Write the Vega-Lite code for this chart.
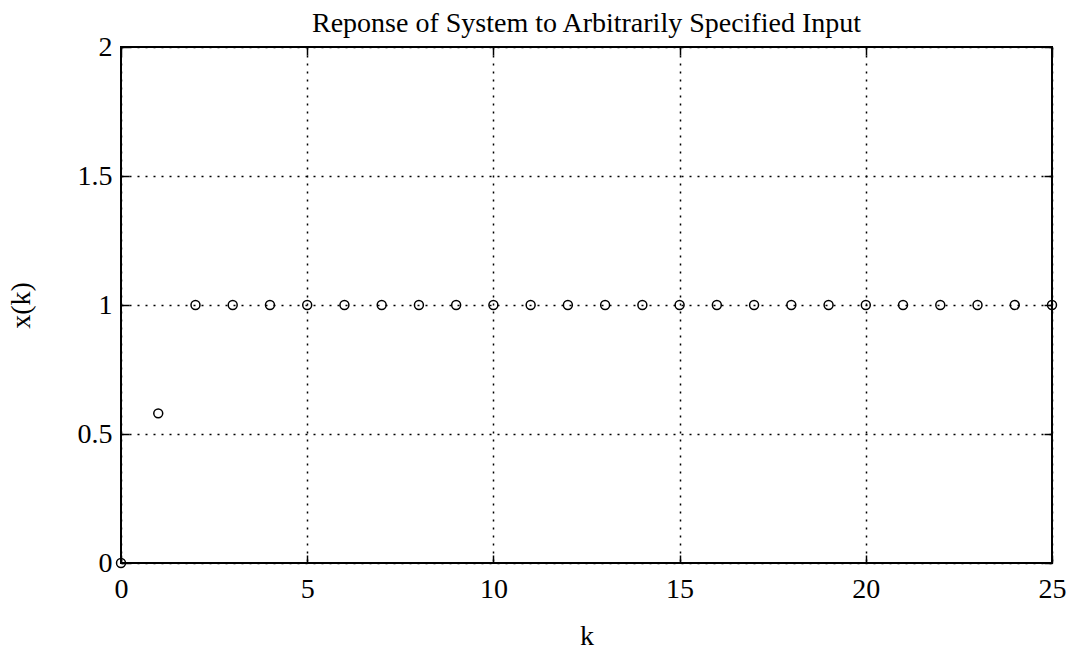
{
  "$schema": "https://vega.github.io/schema/vega-lite/v6.json",
  "width": 931,
  "height": 516,
  "autosize": {"type": "none"},
  "padding": {"left": 121, "top": 47, "right": 18, "bottom": 87},
  "background": "white",
  "title": {
    "text": "Reponse of System to Arbitrarily Specified Input",
    "font": "Liberation Serif",
    "fontSize": 28,
    "fontWeight": "normal",
    "color": "black",
    "offset": -5
  },
  "config": {
    "view": {"stroke": "black", "strokeWidth": 2},
    "axis": {
      "labelFont": "Liberation Serif",
      "titleFont": "Liberation Serif",
      "labelFontSize": 28,
      "titleFontSize": 28,
      "titleFontWeight": "normal",
      "labelColor": "black",
      "titleColor": "black",
      "domain": false,
      "tickColor": "black",
      "tickSize": -8,
      "tickWidth": 1.5,
      "gridColor": "black",
      "gridDash": [2, 6],
      "gridWidth": 1.5,
      "gridOpacity": 1
    }
  },
  "data": {
    "values": [
      {"k": 0, "x": 0},
      {"k": 1, "x": 0.58},
      {"k": 2, "x": 1},
      {"k": 3, "x": 1},
      {"k": 4, "x": 1},
      {"k": 5, "x": 1},
      {"k": 6, "x": 1},
      {"k": 7, "x": 1},
      {"k": 8, "x": 1},
      {"k": 9, "x": 1},
      {"k": 10, "x": 1},
      {"k": 11, "x": 1},
      {"k": 12, "x": 1},
      {"k": 13, "x": 1},
      {"k": 14, "x": 1},
      {"k": 15, "x": 1},
      {"k": 16, "x": 1},
      {"k": 17, "x": 1},
      {"k": 18, "x": 1},
      {"k": 19, "x": 1},
      {"k": 20, "x": 1},
      {"k": 21, "x": 1},
      {"k": 22, "x": 1},
      {"k": 23, "x": 1},
      {"k": 24, "x": 1},
      {"k": 25, "x": 1}
    ]
  },
  "resolve": {"scale": {"x": "independent", "y": "independent"}},
  "layer": [
    {
      "mark": {"type": "point", "opacity": 0},
      "encoding": {
        "x": {
          "field": "k",
          "type": "quantitative",
          "scale": {"domain": [0, 25], "nice": false, "zero": false},
          "axis": {"orient": "top", "values": [0, 5, 10, 15, 20, 25], "title": null, "labels": false, "grid": false}
        },
        "y": {
          "field": "x",
          "type": "quantitative",
          "scale": {"domain": [0, 2], "nice": false},
          "axis": {"orient": "right", "values": [0, 0.5, 1, 1.5, 2], "title": null, "labels": false, "grid": false}
        }
      }
    },
    {
      "mark": {"type": "point", "shape": "circle", "filled": false, "stroke": "black", "strokeWidth": 1.5, "size": 80, "opacity": 1, "clip": false},
      "encoding": {
        "x": {
          "field": "k",
          "type": "quantitative",
          "scale": {"domain": [0, 25], "nice": false, "zero": false},
          "axis": {"orient": "bottom", "values": [0, 5, 10, 15, 20, 25], "grid": true, "title": "k", "labelPadding": 20, "titlePadding": 19, "labelFlush": false}
        },
        "y": {
          "field": "x",
          "type": "quantitative",
          "scale": {"domain": [0, 2], "nice": false},
          "axis": {"orient": "left", "values": [0, 0.5, 1, 1.5, 2], "grid": true, "format": "~g", "title": "x(k)", "labelPadding": 17, "titlePadding": 42, "labelFlush": false}
        }
      }
    }
  ]
}
